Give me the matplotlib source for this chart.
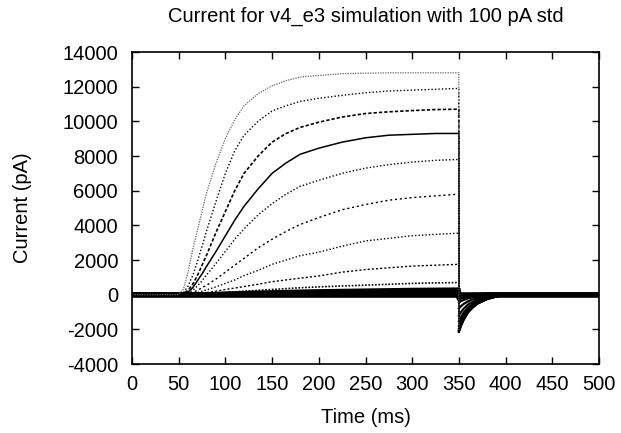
import matplotlib
matplotlib.use("Agg")
import matplotlib.pyplot as plt

plt.rcParams['font.family'] = ['Liberation Sans', 'DejaVu Sans']
plt.rcParams['axes.unicode_minus'] = False

# sample times (ms); the step ends at 350 ms, tail currents follow
t_ms = [0, 50, 55, 60, 65, 70, 75, 80, 90, 100, 110, 120, 135, 150, 165, 180,
        200, 225, 250, 275, 300, 325, 349.9,
        350, 352, 355, 360, 365, 370, 380, 390, 400, 500]
step_end = 23  # index of the first tail sample (350 ms)

# current traces (pA), one per voltage step, largest first
i1 = [0, 0, 300, 1300, 2600, 3700, 4800, 5900, 7600, 9000, 10100, 10900, 11600, 12050, 12350, 12550,
      12650, 12750, 12780, 12800, 12800, 12800, 12800,
      -2150, -1830, -1460, -1010, -730, -520, -260, -110, 0, 0]
i2 = [0, 0, 100, 500, 1100, 1900, 2800, 3700, 5400, 7000, 8300, 9200, 10000, 10600, 10900, 11150,
      11330, 11500, 11650, 11750, 11800, 11850, 11900,
      -2100, -1790, -1430, -990, -710, -500, -250, -100, 0, 0]
i3 = [0, 0, 50, 250, 600, 1100, 1700, 2300, 3600, 4800, 6000, 7000, 8000, 8800, 9300, 9650,
      9950, 10250, 10450, 10550, 10620, 10680, 10700,
      -2050, -1740, -1390, -960, -700, -490, -250, -100, 0, 0]
i4 = [0, 0, 30, 150, 400, 800, 1200, 1650, 2500, 3400, 4300, 5100, 6100, 7000, 7600, 8100,
      8450, 8800, 9050, 9200, 9250, 9300, 9300,
      -1950, -1660, -1330, -920, -660, -470, -230, -100, 0, 0]
i5 = [0, 0, 20, 100, 250, 500, 800, 1150, 1800, 2500, 3200, 3800, 4600, 5250, 5800, 6250,
      6600, 7000, 7300, 7500, 7650, 7750, 7800,
      -1800, -1530, -1220, -850, -610, -430, -220, -90, 0, 0]
i6 = [0, 0, 10, 50, 120, 250, 400, 550, 900, 1300, 1700, 2100, 2700, 3200, 3650, 4050,
      4450, 4900, 5200, 5450, 5600, 5700, 5800,
      -1550, -1320, -1050, -730, -530, -370, -190, -80, 0, 0]
i7 = [0, 0, 0, 20, 60, 120, 200, 280, 450, 650, 850, 1100, 1400, 1750, 2000, 2250,
      2450, 2800, 3100, 3250, 3400, 3480, 3550,
      -1200, -1020, -820, -560, -410, -290, -140, -60, 0, 0]
i8 = [0, 0, 0, 10, 30, 50, 80, 120, 200, 300, 380, 470, 600, 750, 850, 950,
      1080, 1300, 1450, 1550, 1650, 1700, 1750,
      -800, -680, -540, -380, -270, -190, -100, -40, 0, 0]
i9 = [0, 0, 0, 0, 10, 20, 40, 60, 90, 120, 160, 200, 250, 300, 350, 400,
      450, 500, 550, 600, 650, 680, 700,
      -450, -380, -310, -210, -150, -110, -50, -20, 0, 0]
i10 = [0, 0, 0, 0, 0, 10, 20, 30, 40, 60, 80, 100, 120, 140, 160, 180,
       200, 220, 240, 260, 280, 290, 300,
       -200, -170, -140, -90, -70, -50, -20, 0, 0, 0]
i11 = [0, 0, 0, 0, 0, 0, 0, 10, 20, 30, 40, 50, 60, 70, 80, 90,
       100, 105, 110, 115, 120, 120, 120,
       -80, -70, -50, -40, -30, -20, 0, 0, 0, 0]
i12 = [0] * len(t_ms)

traces = [i1, i2, i3, i4, i5, i6, i7, i8, i9, i10, i11, i12]

styles = [
    dict(color='#666666', ls=(0, (1, 1)), lw=0.9),
    dict(color='black', ls=(0, (1, 1.5)), lw=1.0),
    dict(color='black', ls=(0, (2, 1.2)), lw=1.2),
    dict(color='black', ls='-', lw=1.1),
    dict(color='black', ls=(0, (1, 1.5)), lw=1.0),
    dict(color='black', ls=(0, (1.5, 2)), lw=1.0),
    dict(color='black', ls=(0, (1, 1.5)), lw=1.0),
    dict(color='black', ls=(0, (1.5, 1.5)), lw=1.0),
    dict(color='black', ls=(0, (1, 1)), lw=1.2),
    dict(color='black', ls='-', lw=3.0),
    dict(color='black', ls='-', lw=3.5),
    dict(color='black', ls='-', lw=4.0),
]

fig = plt.figure(figsize=(6.21, 4.33), dpi=100)
ax = fig.add_axes([132 / 621, 1 - 364 / 433, 467 / 621, 312 / 433])

for y, st in zip(traces[::-1], styles[::-1]):
    # step response in the trace's own line style
    ax.plot(t_ms[:step_end + 1], y[:step_end + 1], **st)
    # tail currents overlap into a dark band
    ax.plot(t_ms[step_end:], y[step_end:], color='black', ls='-',
            lw=max(st['lw'], 1.6))

ax.set_xlim(0, 500)
ax.set_ylim(-4000, 14000)
ax.set_xticks(range(0, 501, 50))
ax.set_yticks(range(-4000, 14001, 2000))
ax.tick_params(direction='in', top=True, right=True, length=5, width=1,
               labelsize=14.5)
ax.tick_params(axis='x', pad=8)
ax.tick_params(axis='y', pad=10)
for s in ax.spines.values():
    s.set_linewidth(1.2)

ax.set_xlabel('Time (ms)', fontsize=14.5, labelpad=10)
ax.set_ylabel('Current (pA)', fontsize=14.5, labelpad=22)
fig.text(0.5 * (132 + 599) / 621, 1 - 16 / 433, 'Current for v4_e3 simulation with 100 pA std',
         ha='center', va='center', fontsize=14.5)

fig.savefig('out.png', dpi=100)
